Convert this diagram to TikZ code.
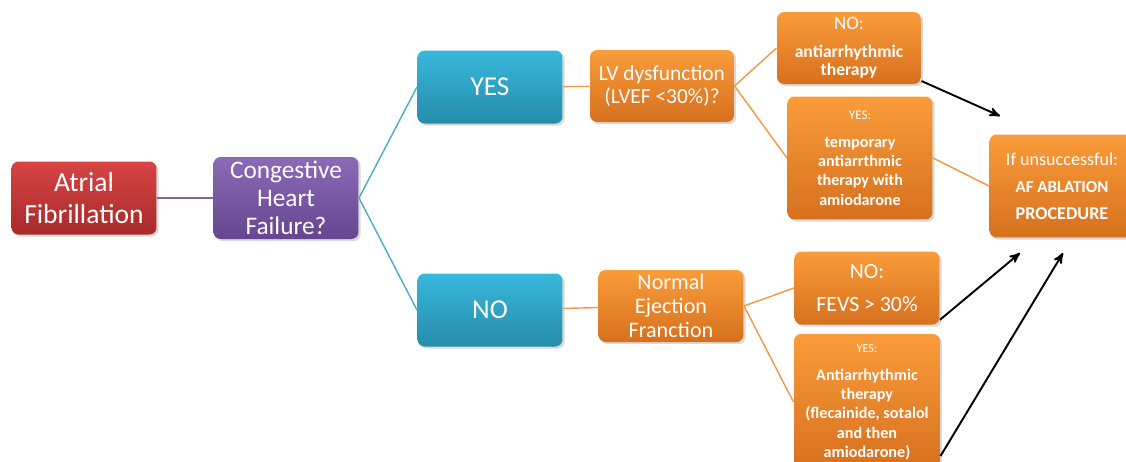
\documentclass[tikz,border=0pt]{standalone}
\usepackage{fontspec}
\setmainfont{Carlito}
\usetikzlibrary{arrows,shadows,positioning}
\definecolor{redtop}{HTML}{D84444}
\definecolor{redbot}{HTML}{A82A2A}
\definecolor{purtop}{HTML}{8C6AB6}
\definecolor{purbot}{HTML}{664690}
\definecolor{bluetop}{HTML}{38B8DC}
\definecolor{bluebot}{HTML}{268CAA}
\definecolor{ortop}{HTML}{FA9C3A}
\definecolor{orbot}{HTML}{D6701E}
\definecolor{purline}{HTML}{8064A2}
\definecolor{blueline}{HTML}{4BACC6}
\definecolor{orline}{HTML}{F79646}

\begin{document}
\begin{tikzpicture}[x=0.02cm,y=-0.02cm,>=stealth',semithick]
  \tikzstyle{box}=[rectangle,rounded corners=4pt,text=white,align=center,inner sep=1pt,
                   drop shadow={opacity=0.3,shadow xshift=1.2pt,shadow yshift=-1.2pt}]
  \tikzstyle{redbox}=[box,top color=redtop,bottom color=redbot]
  \tikzstyle{purbox}=[box,top color=purtop,bottom color=purbot]
  \tikzstyle{bluebox}=[box,top color=bluetop,bottom color=bluebot]
  \tikzstyle{orbox}=[box,top color=ortop,bottom color=orbot]
  \tikzstyle{link}=[-,line width=0.8pt]
  \tikzstyle{go}=[->,black,line width=1.1pt]

  \useasboundingbox (0,0) rectangle (1126,461);

  \node[redbox,minimum width=2.9cm,minimum height=1.46cm,
        font=\fontsize{15.7}{18.2}\selectfont] (af) at (84,198) {Atrial\\Fibrillation};
  \node[purbox,minimum width=2.9cm,minimum height=1.64cm,
        font=\fontsize{14.4}{16}\selectfont] (chf) at (286,198) {Congestive\\Heart\\Failure?};

  \node[bluebox,minimum width=2.9cm,minimum height=1.46cm,
        font=\fontsize{15.5}{18}\selectfont] (yes) at (490,87) {YES};
  \node[bluebox,minimum width=2.9cm,minimum height=1.46cm,
        font=\fontsize{15.5}{18}\selectfont] (no) at (490,310) {NO};

  \node[orbox,minimum width=2.88cm,minimum height=1.44cm,
        font=\fontsize{12.2}{13.2}\selectfont] (lv) at (662,86) {LV dysfunction\\(LVEF <30\%)?};
  \node[orbox,minimum width=2.9cm,minimum height=1.44cm,
        font=\fontsize{12.6}{13.7}\selectfont] (normal) at (671,306) {Normal\\Ejection\\Franction};

  \node[orbox,minimum width=2.88cm,minimum height=1.44cm,
        font=\bfseries\fontsize{10}{10.5}\selectfont] (noanti) at (849,48)
        {{\mdseries\fontsize{10.8}{11}\selectfont NO:}\\[5pt]antiarrhythmic\\therapy};
  \node[orbox,minimum width=2.9cm,minimum height=2.46cm,
        font=\bfseries\fontsize{9.2}{11}\selectfont] (yestemp) at (860,158)
        {{\mdseries\fontsize{7.5}{9}\selectfont YES:}\\[5pt]temporary\\antiarrthmic\\therapy with\\amiodarone};

  \node[orbox,minimum width=2.9cm,minimum height=1.46cm,
        font=\fontsize{12.4}{19}\selectfont] (fevs) at (867,288) {NO:\\FEVS > 30\%};
  \node[orbox,minimum width=2.92cm,minimum height=2.72cm,
        font=\bfseries\fontsize{9.2}{11}\selectfont] (yesanti) at (867,402)
        {{\mdseries\fontsize{7}{8}\selectfont YES:}\\[5pt]Antiarrhythmic\\therapy\\(flecainide, sotalol\\and then\\amiodarone)};

  \node[orbox,minimum width=2.9cm,minimum height=2.06cm,
        font=\fontsize{10.3}{15.4}\selectfont] (ablation) at (1062,186)
        {If unsuccessful:\\\bfseries\fontsize{9.6}{15.4}\selectfont AF ABLATION\\\bfseries PROCEDURE};

  \coordinate (t1) at (1000,116);
  \coordinate (t2) at (1020,253);
  \coordinate (t3) at (1063,253);

  \draw[link,purline] (af) -- (chf);
  \draw[link,blueline] (chf.east) -- (yes.west);
  \draw[link,blueline] (chf.east) -- (no.west);
  \draw[link,orline] (yes) -- (lv);
  \draw[link,orline] (no) -- (normal);
  \draw[link,orline] (lv.east) -- (noanti.west);
  \draw[link,orline] (lv.east) -- (yestemp.west);
  \draw[link,orline] (yestemp.east) -- (ablation.west);
  \draw[link,orline] (normal.east) -- (fevs.west);
  \draw[link,orline] (normal.east) -- (yesanti.west);

  \draw[go] ([yshift=2pt]noanti.south east) -- (t1);
  \draw[go] ([yshift=3pt]fevs.south east) -- (t2);
  \draw[go] ([yshift=-1.08cm]yesanti.east) -- (t3);
\end{tikzpicture}
\end{document}
